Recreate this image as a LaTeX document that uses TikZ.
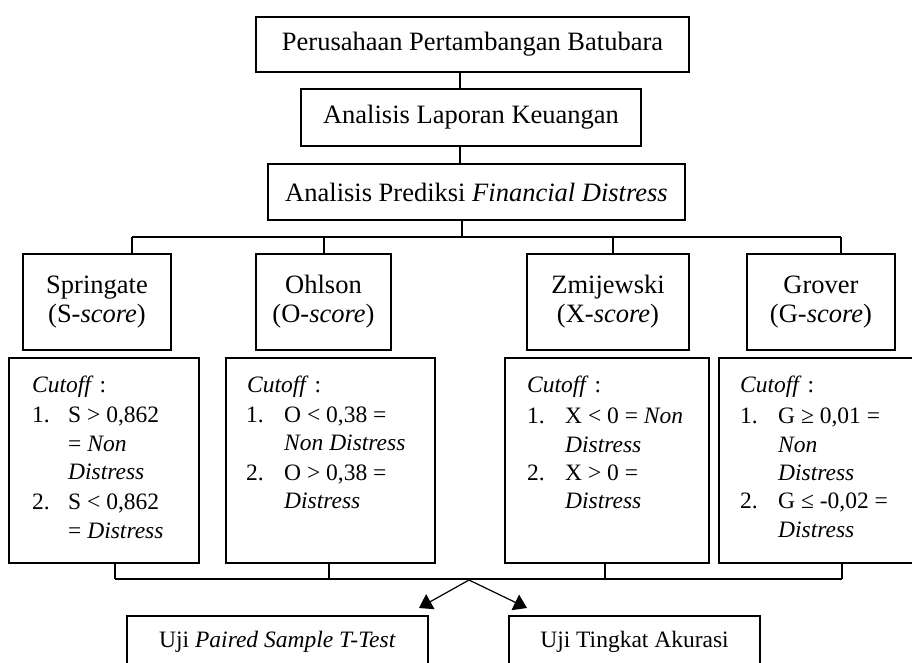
\documentclass[tikz,border=0pt]{standalone}
\usepackage{fontspec}
\setmainfont{Liberation Serif}
\usetikzlibrary{arrows.meta}
\newcommand\myBig{\fontsize{26.5}{29}\selectfont}
\newcommand\mySmall{\fontsize{23.5}{29}\selectfont}
\begin{document}
\begin{tikzpicture}[x=1pt,y=-1pt,
  box/.style={draw, line width=2.5pt, inner sep=0pt, align=center, font=\myBig},
  cbox/.style={draw, line width=2.5pt, inner sep=0pt, minimum height=205},
  conn/.style={line width=1.2pt},
  arr/.style={line width=1.2pt, -{Triangle[length=13pt,width=17pt]}},
  txt/.style={anchor=base west, inner sep=0pt, font=\mySmall}]
\useasboundingbox (0,0) rectangle (912,662);
\clip (0,0) rectangle (912,662);

% top chain
\node[box, minimum width=433, minimum height=55] (b1) at (472.5,44.5) {Perusahaan Pertambangan Batubara};
\node[box, minimum width=340, minimum height=57] (b2) at (471,117.5) {Analisis Laporan Keuangan};
\node[box, minimum width=417, minimum height=56] (b3) at (476.5,192) {Analisis Prediksi \textit{Financial Distress}};
\coordinate (x1) at (460,0);
\coordinate (x2) at (462,0);
\draw[conn] (b1.south -| x1) -- (b2.north -| x1);
\draw[conn] (b2.south -| x1) -- (b3.north -| x1);
\coordinate (bus) at (462,237);
\draw[conn] (b3.south -| x2) -- (bus);

% model boxes
\node[box, minimum width=148, minimum height=96] (m1) at (97,302) {Springate\\(S-\textit{score})};
\node[box, minimum width=135, minimum height=96] (m2) at (323.5,302) {Ohlson\\(O-\textit{score})};
\node[box, minimum width=162, minimum height=96] (m3) at (608,302) {Zmijewski\\(X-\textit{score})};
\node[box, minimum width=148, minimum height=96] (m4) at (821,302) {Grover\\(G-\textit{score})};
\coordinate (d1) at (132,237);
\coordinate (d2) at (324,237);
\coordinate (d3) at (613,237);
\coordinate (d4) at (841,237);
\draw[conn] (d1) -- (d4);
\draw[conn] (d1) -- (m1.north -| d1);
\draw[conn] (d2) -- (m2.north -| d2);
\draw[conn] (d3) -- (m3.north -| d3);
\draw[conn] (d4) -- (m4.north -| d4);

% cutoff boxes
\node[cbox, minimum width=190] (c1) at (104,460.5) {};
\node[cbox, minimum width=209] (c2) at (330.5,460.5) {};
\node[cbox, minimum width=204] (c3) at (607,460.5) {};
\node[cbox, minimum width=212] (c4) at (825,460.5) {};

% Springate cutoff text
\node[txt] (c1h) at (32,392) {\textit{Cutoff} :};
\node[txt] (c1n1) at (32,422) {1.};
\node[txt] (c1a) at (68,422) {S > 0,862};
\node[txt] (c1b) at (68,451) {= \textit{Non}};
\node[txt] (c1c) at (68,479) {\textit{Distress}};
\node[txt] (c1n2) at (32,509) {2.};
\node[txt] (c1d) at (68,509) {S < 0,862};
\node[txt] (c1e) at (68,538) {= \textit{Distress}};

% Ohlson cutoff text
\node[txt] (c2h) at (247,392) {\textit{Cutoff} :};
\node[txt] (c2n1) at (246,422) {1.};
\node[txt] (c2a) at (284,422) {O < 0,38 =};
\node[txt] (c2b) at (284,450) {\textit{Non Distress}};
\node[txt] (c2n2) at (246,480) {2.};
\node[txt] (c2c) at (284,480) {O > 0,38 =};
\node[txt] (c2d) at (284,508) {\textit{Distress}};

% Zmijewski cutoff text
\node[txt] (c3h) at (527,392) {\textit{Cutoff} :};
\node[txt] (c3n1) at (527,423) {1.};
\node[txt] (c3a) at (565,423) {X < 0 = \textit{Non}};
\node[txt] (c3b) at (565,452) {\textit{Distress}};
\node[txt] (c3n2) at (527,480) {2.};
\node[txt] (c3c) at (565,480) {X > 0 =};
\node[txt] (c3d) at (565,508) {\textit{Distress}};

% Grover cutoff text
\node[txt] (c4h) at (740,392) {\textit{Cutoff} :};
\node[txt] (c4n1) at (740,423) {1.};
\node[txt] (c4a) at (778,423) {G ≥ 0,01 =};
\node[txt] (c4b) at (778,452) {\textit{Non}};
\node[txt] (c4c) at (778,480) {\textit{Distress}};
\node[txt] (c4n2) at (740,508) {2.};
\node[txt] (c4d) at (778,508) {G ≤ -0,02 =};
\node[txt] (c4e) at (778,537) {\textit{Distress}};

% bottom bus
\coordinate (e1) at (115,579);
\coordinate (e2) at (329,579);
\coordinate (e3) at (605,579);
\coordinate (e4) at (842,579);
\draw[conn] (c1.south -| e1) -- (e1);
\draw[conn] (c2.south -| e2) -- (e2);
\draw[conn] (c3.south -| e3) -- (e3);
\draw[conn] (c4.south -| e4) -- (e4);
\draw[conn] (e1) -- (e4);
\coordinate (apex) at (469,580);
\coordinate (t1) at (419,608);
\coordinate (t2) at (527,608);
\draw[arr] (apex) -- (t1);
\draw[arr] (apex) -- (t2);

% bottom boxes
\node[box, font=\mySmall, minimum width=301, minimum height=52] (u1) at (277.5,642) {Uji \textit{Paired Sample T-Test}};
\node[box, font=\mySmall, minimum width=251, minimum height=52] (u2) at (634.5,642) {Uji Tingkat Akurasi};
\end{tikzpicture}
\end{document}
